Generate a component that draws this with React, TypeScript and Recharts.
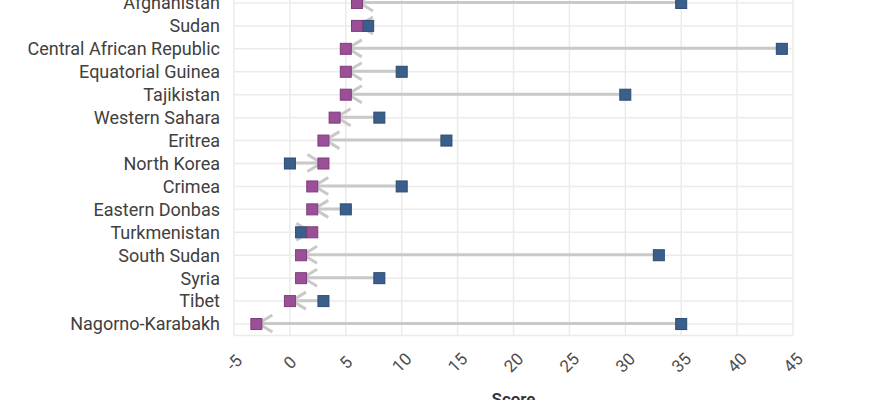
import React from 'react';
import {
  ComposedChart,
  Bar,
  Scatter,
  XAxis,
  YAxis,
  CartesianGrid,
} from 'recharts';

// Region names, top to bottom
const regions = [
  'Afghanistan',
  'Sudan',
  'Central African Republic',
  'Equatorial Guinea',
  'Tajikistan',
  'Western Sahara',
  'Eritrea',
  'North Korea',
  'Crimea',
  'Eastern Donbas',
  'Turkmenistan',
  'South Sudan',
  'Syria',
  'Tibet',
  'Nagorno-Karabakh',
];

// earlier score (blue) and latest score (purple)
const startScores = [35, 7, 44, 10, 30, 8, 14, 0, 10, 5, 1, 33, 8, 3, 35];
const endScores = [6, 6, 5, 5, 5, 4, 3, 3, 2, 2, 2, 1, 1, 0, -3];

const xTicks = [-5, 0, 5, 10, 15, 20, 25, 30, 35, 40, 45];

const PURPLE = '#9b4f96';
const BLUE = '#3b5f8c';
const ARROW = '#c9c9c9';

const data = regions.map((name, i) => ({
  name,
  start: startScores[i],
  end: endScores[i],
  range: [Math.min(startScores[i], endScores[i]), Math.max(startScores[i], endScores[i])],
}));

const ArrowShape = (props: any) => {
  const { x, y, width, height, payload } = props;
  const left = Math.min(x, x + width);
  const right = Math.max(x, x + width);
  const cy = y + height / 2;
  const pointsLeft = payload.end < payload.start;
  const tip = pointsLeft ? left : right;
  const tail = pointsLeft ? right : left;
  const dir = pointsLeft ? 1 : -1;
  return (
    <g>
      <line x1={tail} y1={cy} x2={tip} y2={cy} stroke={ARROW} strokeWidth={3} />
      <polyline
        points={`${tip + dir * 16},${cy - 8.5} ${tip + dir * 2},${cy} ${tip + dir * 16},${cy + 8.5}`}
        fill="none"
        stroke={ARROW}
        strokeWidth={3}
      />
    </g>
  );
};

const square = (fill: string, stroke: string) => (props: any) => {
  const { cx, cy } = props;
  return <rect x={cx - 5.5} y={cy - 5.5} width={11} height={11} fill={fill} stroke={stroke} strokeWidth={1} />;
};

const XTick = (props: any) => {
  const { x, y, payload } = props;
  return (
    <g transform={`translate(${x},${y + 19}) rotate(-45)`}>
      <text textAnchor="middle" dy="0.35em" fill="#4d4d4d" fontSize={17} fontFamily="Roboto">
        {payload.value}
      </text>
    </g>
  );
};

export default function App() {
  return (
    <div style={{ position: 'absolute', left: 0, top: 0, width: 883, height: 400, overflow: 'hidden', background: '#fff' }}>
      <div style={{ position: 'absolute', left: 0, top: -20 }}>
        <ComposedChart
          width={883}
          height={440}
          data={data}
          layout="vertical"
          margin={{ top: 11.5, right: 90, bottom: 0, left: 0 }}
        >
          <CartesianGrid stroke="#ebebeb" strokeWidth={1.5} />
          <XAxis
            type="number"
            domain={[-5, 45]}
            ticks={xTicks}
            interval={0}
            axisLine={false}
            tickLine={false}
            height={84.5}
            tick={<XTick />}
            label={{
              value: 'Score',
              position: 'insideBottom',
              offset: 15,
              fill: '#333',
              fontSize: 17,
              fontWeight: 600,
              fontFamily: 'Roboto',
            }}
          />
          <YAxis
            type="category"
            dataKey="name"
            width={234}
            axisLine={false}
            tickLine={false}
            tickSize={0}
            tickMargin={14}
            interval={0}
            tick={{ fill: '#404040', fontSize: 18, fontFamily: 'Roboto' }}
          />
          <Bar dataKey="range" barSize={12} shape={<ArrowShape />} isAnimationActive={false} />
          <Scatter dataKey="start" shape={square(BLUE, '#2d4a6f')} isAnimationActive={false} />
          <Scatter dataKey="end" shape={square(PURPLE, '#7e3d7a')} isAnimationActive={false} />
        </ComposedChart>
      </div>
    </div>
  );
}
